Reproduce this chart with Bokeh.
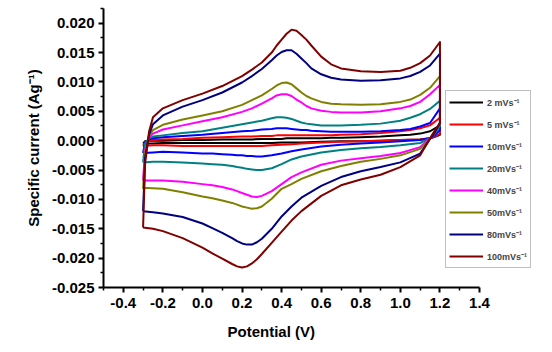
from bokeh.plotting import figure
from bokeh.models import Legend, LegendItem, FixedTicker, PrintfTickFormatter, Range1d, Title
from bokeh.embed import file_html
from bokeh.resources import INLINE

# Potential grid (V) of the anodic (forward) and cathodic (reverse) sweeps
UP_X = [-0.30, -0.29, -0.27, -0.25, -0.20, -0.10, 0.00, 0.10, 0.20, 0.25, 0.30, 0.35, 0.375, 0.40, 0.425,
        0.45, 0.475, 0.50, 0.525, 0.55, 0.60, 0.65, 0.70, 0.80, 0.90, 1.00, 1.05, 1.10, 1.15, 1.20]
LOW_X = [1.20, 1.17, 1.15, 1.10, 1.00, 0.90, 0.80, 0.70, 0.60, 0.50, 0.45, 0.40, 0.35, 0.30,
         0.275, 0.25, 0.225, 0.20, 0.175, 0.15, 0.10, 0.05, 0.00, -0.10, -0.20, -0.25, -0.30]

# Specific current (A/g) for each scan rate: forward (up_) and reverse (low_) sweeps
up_2 = [-0.0005, -0.0001, 0.0000, 0.0000, 0.0000, 0.0001, 0.0001, 0.0002, 0.0002, 0.0002, 0.0003, 0.0003, 0.0003, 0.0003, 0.0004,
        0.0004, 0.0004, 0.0004, 0.0004, 0.0004, 0.0004, 0.0005, 0.0005, 0.0006, 0.0007, 0.0009, 0.0010, 0.0012, 0.0016, 0.0026]
low_2 = [0.0010, 0.0006, 0.0004, 0.0002, 0.0001, 0.0000, -0.0001, -0.0001, -0.0002, -0.0003, -0.0003, -0.0003, -0.0004, -0.0004,
         -0.0004, -0.0004, -0.0004, -0.0004, -0.0004, -0.0004, -0.0004, -0.0004, -0.0004, -0.0004, -0.0004, -0.0005, -0.0005]

up_5 = [-0.0009, -0.0002, 0.0000, 0.0001, 0.0002, 0.0003, 0.0005, 0.0006, 0.0007, 0.0007, 0.0008, 0.0008, 0.0009, 0.0009, 0.0009,
        0.0009, 0.0009, 0.0009, 0.0009, 0.0009, 0.0009, 0.0009, 0.0010, 0.0011, 0.0013, 0.0016, 0.0018, 0.0021, 0.0026, 0.0039]
low_5 = [0.0012, 0.0006, 0.0004, 0.0002, 0.0001, 0.0000, -0.0001, -0.0002, -0.0003, -0.0005, -0.0006, -0.0007, -0.0008, -0.0009,
         -0.0009, -0.0009, -0.0009, -0.0009, -0.0009, -0.0009, -0.0009, -0.0009, -0.0009, -0.0009, -0.0008, -0.0008, -0.0009]

up_10 = [-0.0021, -0.0003, 0.0002, 0.0004, 0.0006, 0.0008, 0.0010, 0.0013, 0.0016, 0.0017, 0.0019, 0.0020, 0.0021, 0.0021, 0.0021,
         0.0020, 0.0019, 0.0018, 0.0018, 0.0017, 0.0016, 0.0015, 0.0015, 0.0015, 0.0016, 0.0018, 0.0020, 0.0024, 0.0030, 0.0055]
low_10 = [0.0018, 0.0008, 0.0004, 0.0001, -0.0001, -0.0003, -0.0005, -0.0007, -0.0010, -0.0015, -0.0018, -0.0022, -0.0025, -0.0027,
          -0.0027, -0.0026, -0.0026, -0.0025, -0.0025, -0.0024, -0.0023, -0.0022, -0.0022, -0.0020, -0.0019, -0.0020, -0.0021]

up_20 = [-0.0037, -0.0005, 0.0004, 0.0007, 0.0009, 0.0013, 0.0016, 0.0022, 0.0028, 0.0031, 0.0034, 0.0038, 0.0040, 0.0040, 0.0039,
         0.0037, 0.0034, 0.0031, 0.0029, 0.0028, 0.0026, 0.0026, 0.0026, 0.0027, 0.0029, 0.0034, 0.0039, 0.0045, 0.0054, 0.0068]
low_20 = [0.0025, 0.0010, 0.0004, -0.0004, -0.0008, -0.0011, -0.0013, -0.0016, -0.0020, -0.0027, -0.0032, -0.0040, -0.0047, -0.0050,
          -0.0050, -0.0049, -0.0048, -0.0046, -0.0045, -0.0043, -0.0041, -0.0040, -0.0039, -0.0037, -0.0036, -0.0036, -0.0037]

up_40 = [-0.0068, -0.0015, 0.0005, 0.0012, 0.0019, 0.0026, 0.0033, 0.0040, 0.0049, 0.0055, 0.0063, 0.0072, 0.0077, 0.0079, 0.0079,
         0.0076, 0.0070, 0.0065, 0.0059, 0.0055, 0.0051, 0.0049, 0.0048, 0.0048, 0.0050, 0.0055, 0.0059, 0.0066, 0.0079, 0.0095]
low_40 = [0.0030, 0.0012, 0.0004, -0.0011, -0.0021, -0.0026, -0.0030, -0.0034, -0.0041, -0.0054, -0.0062, -0.0074, -0.0086, -0.0094,
          -0.0096, -0.0095, -0.0092, -0.0089, -0.0086, -0.0083, -0.0079, -0.0076, -0.0074, -0.0070, -0.0068, -0.0068, -0.0068]

up_50 = [-0.0082, -0.0020, 0.0008, 0.0018, 0.0027, 0.0036, 0.0043, 0.0050, 0.0061, 0.0069, 0.0077, 0.0088, 0.0094, 0.0098, 0.0099,
         0.0096, 0.0089, 0.0082, 0.0076, 0.0072, 0.0066, 0.0063, 0.0062, 0.0061, 0.0062, 0.0066, 0.0070, 0.0078, 0.0090, 0.0110]
low_50 = [0.0030, 0.0012, 0.0004, -0.0014, -0.0025, -0.0031, -0.0036, -0.0043, -0.0052, -0.0065, -0.0074, -0.0082, -0.0099, -0.0112,
          -0.0115, -0.0116, -0.0114, -0.0112, -0.0109, -0.0106, -0.0102, -0.0098, -0.0095, -0.0088, -0.0082, -0.0081, -0.0080]

up_80 = [-0.0120, -0.0030, 0.0010, 0.0028, 0.0043, 0.0058, 0.0069, 0.0082, 0.0099, 0.0110, 0.0122, 0.0137, 0.0145, 0.0151, 0.0154,
         0.0154, 0.0148, 0.0140, 0.0132, 0.0123, 0.0113, 0.0107, 0.0104, 0.0102, 0.0103, 0.0106, 0.0110, 0.0117, 0.0128, 0.0148]
low_80 = [0.0030, 0.0012, 0.0003, -0.0022, -0.0037, -0.0045, -0.0052, -0.0062, -0.0077, -0.0097, -0.0112, -0.0129, -0.0150, -0.0167,
          -0.0173, -0.0177, -0.0177, -0.0175, -0.0171, -0.0166, -0.0157, -0.0149, -0.0141, -0.0130, -0.0124, -0.0122, -0.0120]

up_100 = [-0.0148, -0.0040, 0.0015, 0.0040, 0.0055, 0.0069, 0.0080, 0.0093, 0.0110, 0.0121, 0.0133, 0.0150, 0.0162, 0.0172, 0.0182,
          0.0189, 0.0187, 0.0180, 0.0172, 0.0162, 0.0143, 0.0130, 0.0123, 0.0118, 0.0117, 0.0119, 0.0124, 0.0132, 0.0145, 0.0168]
low_100 = [0.0030, 0.0015, 0.0004, -0.0025, -0.0045, -0.0058, -0.0066, -0.0076, -0.0094, -0.0120, -0.0136, -0.0155, -0.0174, -0.0193,
           -0.0202, -0.0209, -0.0214, -0.0216, -0.0214, -0.0210, -0.0201, -0.0192, -0.0182, -0.0166, -0.0154, -0.0150, -0.0148]

SCAN_LABELS = ["2 mVs⁻¹", "5 mVs⁻¹", "10mVs⁻¹", "20mVs⁻¹", "40mVs⁻¹", "50mVs⁻¹", "80mVs⁻¹", "100mVs⁻¹"]
COLORS = ["#000000", "#FF0000", "#0000FF", "#008080", "#FF00FF", "#808000", "#000080", "#800000"]

X_TICKS = [-0.4, -0.2, 0.0, 0.2, 0.4, 0.6, 0.8, 1.0, 1.2, 1.4]
X_MINOR = [-0.5, -0.3, -0.1, 0.1, 0.3, 0.5, 0.7, 0.9, 1.1, 1.3]
Y_TICKS = [-0.025, -0.020, -0.015, -0.010, -0.005, 0.0, 0.005, 0.010, 0.015, 0.020]
Y_MINOR = [-0.0225, -0.0175, -0.0125, -0.0075, -0.0025, 0.0025, 0.0075, 0.0125, 0.0175, 0.0225]

FONT = "Liberation Sans"

p = figure(width=552, height=352, output_backend="svg", toolbar_location=None,
           x_range=Range1d(-0.5, 1.708), y_range=Range1d(-0.025, 0.0225),
           min_border_left=103, min_border_right=12, min_border_top=8, min_border_bottom=65)
p.outline_line_color = None
p.grid.visible = False
p.background_fill_color = "white"
p.border_fill_color = "white"

ups = [up_2, up_5, up_10, up_20, up_40, up_50, up_80, up_100]
lows = [low_2, low_5, low_10, low_20, low_40, low_50, low_80, low_100]

items = []
for lab, col, up, low in zip(SCAN_LABELS, COLORS, ups, lows):
    r = p.line(UP_X + LOW_X, up + low, line_color=col, line_width=2, line_join="round")
    items.append(LegendItem(label=lab, renderers=[r]))

legend = Legend(items=items, location=(342, 19), orientation="vertical",
                label_text_font=FONT, label_text_font_style="bold", label_text_font_size="9px",
                glyph_width=34, glyph_height=16, label_height=16, spacing=6, padding=3, margin=0,
                label_standoff=4, border_line_color="#7f7f7f", border_line_width=1,
                background_fill_color="white", background_fill_alpha=1.0)
p.add_layout(legend)

for ax, ticks, minor, fmt, bnds in ((p.xaxis[0], X_TICKS, X_MINOR, "%.1f", (-0.5, 1.4)),
                                    (p.yaxis[0], Y_TICKS, Y_MINOR, "%.3f", (-0.025, 0.0225))):
    ax.ticker = FixedTicker(ticks=ticks, minor_ticks=minor)
    ax.formatter = PrintfTickFormatter(format=fmt)
    ax.bounds = bnds
    ax.axis_line_width = 2
    ax.axis_line_color = "black"
    ax.major_tick_line_width = 2
    ax.minor_tick_line_width = 1.5
    ax.major_tick_in = 0
    ax.major_tick_out = 5
    ax.minor_tick_in = 0
    ax.minor_tick_out = 3
    ax.major_label_text_font = FONT
    ax.major_label_text_font_style = "bold"
    ax.major_label_text_font_size = "15px"
    ax.major_label_text_color = "black"
    ax.axis_label_text_font = FONT
    ax.axis_label_text_font_style = "bold"
    ax.axis_label_text_font_size = "15px"
    ax.axis_label_text_color = "black"

p.yaxis.axis_label = "Specific current (Ag⁻¹)"
p.xaxis.major_label_standoff = 5
p.yaxis.major_label_standoff = 4
p.yaxis.axis_label_standoff = 7

xtitle = Title(text="Potential (V)", align="left", offset=124, standoff=21,
               text_font=FONT, text_font_style="bold", text_font_size="15px", text_color="black")
p.add_layout(xtitle, "below")

open("out.html", "w").write(file_html(p, INLINE))
